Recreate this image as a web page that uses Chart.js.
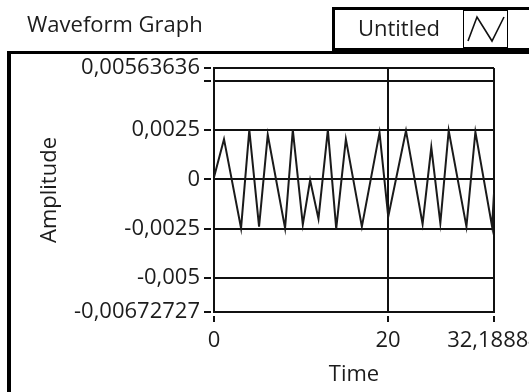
<!DOCTYPE html>
<html>
<head>
<meta charset="utf-8">
<title>Waveform Graph</title>
<script src="https://cdn.jsdelivr.net/npm/chart.js@4.4.1/dist/chart.umd.min.js"></script>
<style>
  html, body { margin: 0; padding: 0; background: #fff; }
  body { width: 529px; height: 392px; overflow: hidden; position: relative;
         font-family: 'Open Sans', 'Noto Sans', sans-serif; color: #1c1c1c; }
  #graph { position: absolute; left: 0; top: 0; }
  .frame { position: absolute; left: 7px; top: 51px; width: 620px; height: 420px;
           border-left: 4px solid #000; border-top: 3px solid #000; box-sizing: border-box; }
  .caption { position: absolute; left: 27px; top: 12px; font-size: 22px; line-height: 22px;
             white-space: nowrap; }
  .legend { position: absolute; left: 332px; top: 7px; width: 240px; height: 45px;
            border: 3px solid #000; border-bottom-width: 4px; box-sizing: border-box; background: #fff; }
  .legend .name { position: absolute; left: 0; top: 6px; width: 128px; text-align: center;
                  font-size: 22px; line-height: 22px; white-space: nowrap; }
  .legend .swatch { position: absolute; left: 128px; top: 0; width: 45px; height: 38px;
                    border: 1px solid #000; box-sizing: border-box; }
  .legend svg { position: absolute; left: 0; top: 0; }
</style>
</head>
<body>
<div class="frame"></div>
<canvas id="graph" width="529" height="392"></canvas>
<div class="caption">Waveform Graph</div>
<div class="legend">
  <div class="name">Untitled</div>
  <div class="swatch">
    <svg width="45" height="38" viewBox="0 0 45 38">
      <polyline points="4,30 13,6 28,30 40,6" fill="none" stroke="#111" stroke-width="1.6"/>
    </svg>
  </div>
</div>
<script>
// Waveform samples: time (s) and amplitude at each vertex of the trace
const times = [0, 1.15, 3.11, 4.06, 5.18, 6.18, 8.17, 9.06, 10.21, 11.05, 12.01, 13.09,
               14.05, 15.16, 17.0, 19.03, 20.03, 22.07, 23.98, 24.98, 26.02, 26.98,
               29.02, 30.05, 31.97, 32.18884];
const amplitudes = [0.0001, 0.00203, -0.00248, 0.0025, -0.0024, 0.00225, -0.00248, 0.0025,
                    -0.0023, -0.00004, -0.002, 0.0025, -0.0025, 0.00203, -0.0024, 0.00236,
                    -0.0019, 0.00246, -0.00227, 0.00162, -0.00223, 0.00246, -0.0024, 0.0024,
                    -0.0024, -0.0007];

// Axis ticks and their labels (decimal comma)
const xTickValues = [0, 20, 32.18884];
const xTickLabels = ['0', '20', '32,18884'];
const yTickValues = [-0.00672727, -0.005, -0.0025, 0, 0.0025, 0.005, 0.00563636];
const yTickLabels = ['-0,00672727', '-0,005', '-0,0025', '0', '0,0025', '', '0,00563636'];

const seriesName = 'Untitled';
const ink = '#111';
const font = { family: "'Open Sans', 'Noto Sans', sans-serif", size: 22 };

const points = times.map((t, i) => ({ x: t, y: amplitudes[i] }));

new Chart(document.getElementById('graph'), {
  type: 'line',
  data: {
    datasets: [{
      label: seriesName,
      data: points,
      borderColor: '#1a1a1a',
      borderWidth: 2,
      pointRadius: 0,
      tension: 0,
      fill: false
    }]
  },
  options: {
    responsive: false,
    animation: false,
    devicePixelRatio: 1,
    layout: { padding: { left: 0, top: 68, right: 35, bottom: 0 } },
    plugins: { legend: { display: false }, tooltip: { enabled: false } },
    scales: {
      x: {
        type: 'linear',
        min: xTickValues[0],
        max: xTickValues[xTickValues.length - 1],
        afterBuildTicks: s => { s.ticks = xTickValues.map(v => ({ value: v })); },
        afterFit: s => { s.height = 80; s.paddingLeft = 0; s.paddingRight = 0; },
        ticks: {
          autoSkip: false, maxRotation: 0, minRotation: 0,
          padding: 6, color: '#1c1c1c', font: font,
          callback: (v, i) => xTickLabels[i]
        },
        grid: {
          color: ink, lineWidth: 2, tickLength: 10,
          tickColor: ink, tickWidth: 2,
          tickBorderDash: [7, 3], tickBorderDashOffset: 7
        },
        border: { display: true, color: ink, width: 2 },
        title: { display: true, text: 'Time', color: '#1c1c1c', font: font,
                 padding: { top: 0, bottom: 4 } }
      },
      y: {
        type: 'linear',
        min: yTickValues[0],
        max: yTickValues[yTickValues.length - 1],
        afterBuildTicks: s => { s.ticks = yTickValues.map(v => ({ value: v })); },
        afterFit: s => { s.width = 214; s.paddingTop = 0; s.paddingBottom = 0; },
        ticks: {
          autoSkip: false, padding: 4, color: '#1c1c1c', font: font,
          callback: (v, i) => yTickLabels[i]
        },
        grid: {
          color: ink, lineWidth: 2, tickLength: 10,
          tickColor: ink, tickWidth: 2,
          tickBorderDash: [7, 3]
        },
        border: { display: true, color: ink, width: 2 },
        title: { display: true, text: 'Amplitude', color: '#1c1c1c', font: font,
                 padding: { top: 37, bottom: 0 } }
      }
    }
  }
});
</script>
</body>
</html>
